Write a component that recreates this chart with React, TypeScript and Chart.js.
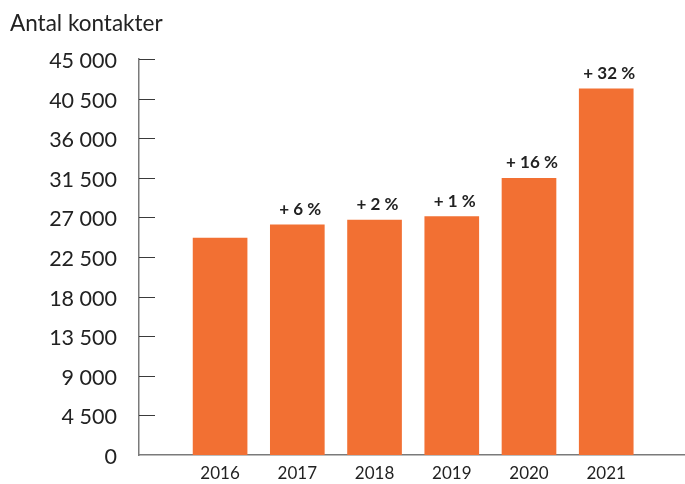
import React, { useEffect, useRef } from "react";
import { Chart, registerables } from "chart.js";

Chart.register(...registerables);

const years = ["2016", "2017", "2018", "2019", "2020", "2021"];
const contacts = [24650, 26150, 26700, 27100, 31450, 41600];
const changeLabels = ["", "+ 6 %", "+ 2 %", "+ 1 %", "+ 16 %", "+ 32 %"];
const yMin = 0;
const yMax = 45000;
const yStep = 4500;
const xMin = -1.05;
const xMax = 6.02;
const titleText = "Antal kontakter";

const FONT = "Lato, 'Open Sans', sans-serif";
const BAR_COLOR = "#F27033";
const TEXT_COLOR = "#222222";

const fmt = (v: number) => String(v).replace(/\B(?=(\d{3})+(?!\d))/g, " ");

const innerTicks = {
  id: "innerTicks",
  afterDraw(chart: any) {
    const y = chart.scales.y;
    const area = chart.chartArea;
    const ctx = chart.ctx;
    ctx.save();
    ctx.strokeStyle = "#3a3a3a";
    ctx.lineWidth = 1;
    y.ticks.forEach((t: any) => {
      if (t.value === 0) return;
      const py = Math.round(y.getPixelForValue(t.value)) + 0.5;
      ctx.beginPath();
      ctx.moveTo(area.left, py);
      ctx.lineTo(area.left + 16, py);
      ctx.stroke();
    });
    ctx.restore();
  },
};

const barLabels = {
  id: "barLabels",
  afterDatasetsDraw(chart: any) {
    const meta = chart.getDatasetMeta(0);
    const ctx = chart.ctx;
    ctx.save();
    ctx.font = `bold 17px ${FONT}`;
    ctx.fillStyle = TEXT_COLOR;
    ctx.textAlign = "center";
    ctx.textBaseline = "alphabetic";
    changeLabels.forEach((lbl, i) => {
      if (!lbl) return;
      const el = meta.data[i];
      if (!el) return;
      ctx.fillText(lbl, el.x + 3, el.y - 10);
    });
    ctx.restore();
  },
};

export default function App() {
  const ref = useRef<HTMLCanvasElement | null>(null);
  useEffect(() => {
    document.body.style.margin = "0";
    if (!ref.current) return;
    const data = contacts.map((v, i) => ({ x: i, y: v }));
    const chart = new Chart(ref.current, {
      type: "bar",
      data: {
        datasets: [
          {
            data,
            backgroundColor: BAR_COLOR,
            barThickness: 54,
            borderWidth: 0,
          },
        ],
      },
      plugins: [innerTicks, barLabels],
      options: {
        responsive: false,
        animation: false,
        devicePixelRatio: 1,
        layout: { padding: { left: 10, top: 10, right: 0, bottom: 0 } },
        plugins: {
          legend: { display: false },
          tooltip: { enabled: false },
          title: {
            display: true,
            text: titleText,
            align: "start",
            color: TEXT_COLOR,
            font: { family: FONT, size: 22.5, weight: "normal" },
            padding: { top: 0, bottom: 22 },
          },
        },
        scales: {
          x: {
            type: "linear",
            min: xMin,
            max: xMax,
            offset: false,
            grid: { display: false, drawTicks: false },
            border: { display: true, color: "#7a7a7a", width: 1.5 },
            afterBuildTicks: (s: any) => {
              s.ticks = years.map((_, i) => ({ value: i }));
            },
            afterFit: (s: any) => {
              s.height = 29;
            },
            ticks: {
              autoSkip: false,
              maxRotation: 0,
              color: TEXT_COLOR,
              padding: 8,
              font: { family: FONT, size: 17 },
              callback: (v: any) => years[Math.round(Number(v))] ?? "",
            },
          },
          y: {
            min: yMin,
            max: yMax,
            grid: { display: false, drawTicks: false },
            border: { display: true, color: "#7a7a7a", width: 1.5 },
            afterFit: (s: any) => {
              s.width = 129;
              s.paddingTop = 13;
              s.paddingBottom = 13;
            },
            ticks: {
              stepSize: yStep,
              color: TEXT_COLOR,
              padding: 22,
              labelOffset: 2,
              font: { family: FONT, size: 21.5 },
              callback: (v: any) => fmt(Number(v)),
            },
          },
        },
      },
    });
    return () => chart.destroy();
  }, []);
  return (
    <div style={{ width: 685, height: 484 }}>
      <canvas ref={ref} width={685} height={484} style={{ display: "block" }} />
    </div>
  );
}
